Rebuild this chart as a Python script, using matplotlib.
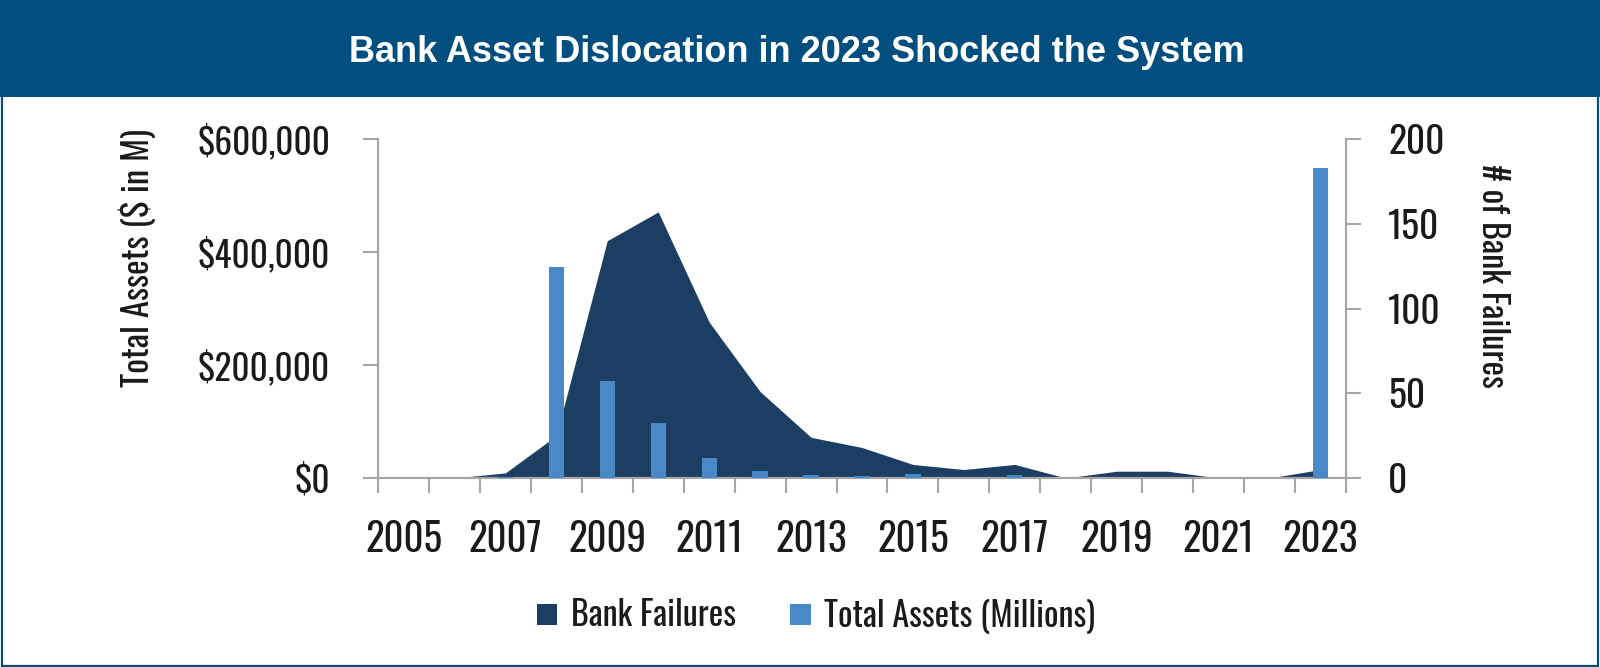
import numpy as np
import matplotlib
matplotlib.use('Agg')
import matplotlib.pyplot as plt
from matplotlib.patches import Rectangle, Patch

# condensed face like the original; fall back if it isn't there
plt.rcParams['font.family'] = ['Oswald', 'Barlow Condensed', 'DejaVu Sans']
plt.rcParams['font.weight'] = 'light'

# data (FDIC failed banks)
years = list(range(2005, 2024))
failures = [0, 0, 3, 25, 140, 157, 92, 51, 24, 18, 8, 5, 8, 0, 4, 4, 0, 0, 5]
assets = [0, 0, 2600, 373600, 170900, 96500, 34900, 11600, 6000, 2900, 6700,
          300, 5100, 0, 200, 450, 0, 0, 548500]
left_ticks = [0, 200000, 400000, 600000]
right_ticks = [0, 50, 100, 150, 200]

NAVY = '#1b3e62'
LIGHT = '#4a89c8'
BANNER = '#024e7e'
GRID = '#a6a6a6'
TXT = '#1a1a1a'

W, H = 1600, 667
fig = plt.figure(figsize=(W / 100, H / 100), dpi=100)

# title banner + frame
fig.patches.append(Rectangle((0, (H - 97) / H), 1, 97 / H, transform=fig.transFigure,
                             facecolor=BANNER, edgecolor='none', zorder=0))
fig.patches.append(Rectangle((0.001, 0.002), 0.998, 0.996, transform=fig.transFigure,
                             facecolor='none', edgecolor=BANNER, lw=1.6, zorder=5))
fig.text(0.498, (H - 53) / H, 'Bank Asset Dislocation in 2023 Shocked the System',
         color='white', fontsize=26, fontweight='bold', ha='center', va='center',
         family=['Liberation Sans', 'DejaVu Sans'])

# axes box in pixel coords: x 378..1346, y 139..478
ax = fig.add_axes([378 / W, (H - 478) / H, (1346 - 378) / W, (478 - 139) / H])
ax2 = ax.twinx()
ax.set_zorder(2)
ax2.set_zorder(1)
ax.patch.set_visible(False)

idx = np.arange(len(years))
ax2.fill_between(idx, failures, color=NAVY, lw=0)
ax.bar(idx, assets, width=0.3, color=LIGHT, zorder=3)

ax.set_xlim(-0.5, len(years) - 0.5)
ax.set_ylim(0, 600000)
ax2.set_ylim(0, 200)

ax.set_yticks(left_ticks)
ax.set_yticklabels(['$' + format(v, ',') for v in left_ticks])
ax2.set_yticks(right_ticks)
ax2.set_yticklabels([str(v) for v in right_ticks])

# ticks between categories, labels every other year
ax.set_xticks(np.arange(-0.5, len(years), 1))
ax.set_xticklabels([])
ax.set_xticks(idx[::2], minor=True)
ax.set_xticklabels([str(y) for y in years[::2]], minor=True)

for a in (ax, ax2):
    a.spines['top'].set_visible(False)
    for s in ('left', 'right', 'bottom'):
        a.spines[s].set_color(GRID)
        a.spines[s].set_linewidth(1.5)

ax.tick_params(axis='x', which='major', length=11, width=1.5, color=GRID)
ax.tick_params(axis='x', which='minor', length=0, pad=30, labelsize=28, labelcolor=TXT)
ax.tick_params(axis='y', length=10.5, width=1.5, color=GRID, pad=24, labelsize=25.5,
               labelcolor=TXT)
ax2.tick_params(axis='y', length=10.5, width=1.5, color=GRID, pad=20, labelsize=27,
                labelcolor=TXT)

fig.text(137 / W, (H - 258) / H, 'Total Assets ($ in M)', rotation=90, fontsize=25,
         color=TXT, ha='center', va='center')
fig.text(1493 / W, (H - 276) / H, '# of Bank Failures', rotation=270, fontsize=24.8,
         color=TXT, ha='center', va='center')

handles = [Patch(facecolor=NAVY, edgecolor='none', label='Bank Failures'),
           Patch(facecolor=LIGHT, edgecolor='none', label='Total Assets (Millions)')]
fig.legend(handles=handles, loc='center', bbox_to_anchor=(816 / W, (H - 616) / H),
           ncol=2, frameon=False, fontsize=24.5, handlelength=0.6, handleheight=0.6,
           handletextpad=0.4, columnspacing=1.6, labelcolor=TXT)

fig.savefig('out.png', dpi=100, facecolor='white')
